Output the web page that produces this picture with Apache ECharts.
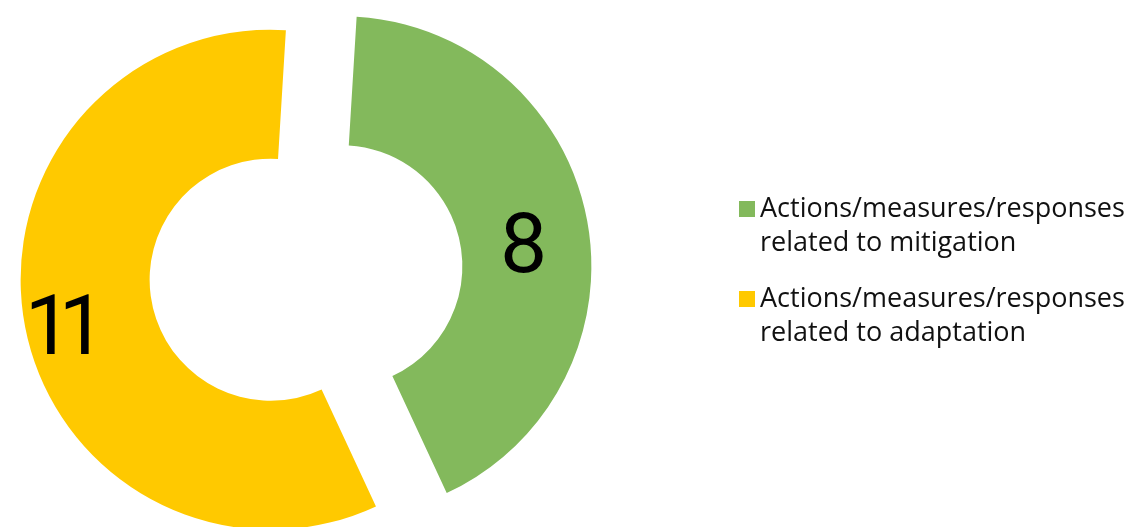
<!DOCTYPE html>
<html>
<head>
<meta charset="utf-8">
<script src="https://cdn.jsdelivr.net/npm/echarts@6/dist/echarts.min.js"></script>
<style>
html,body{margin:0;padding:0;background:#fff;}
#chart{width:1137px;height:527px;}
</style>
</head>
<body>
<div id="chart"></div>
<script>
var categories = [
  "Actions/measures/responses related to mitigation",
  "Actions/measures/responses related to adaptation"
];
var values = [8, 11];
var colors = ["#83B95C", "#FFC900"];

var chart = echarts.init(document.getElementById('chart'), null, {renderer: 'canvas'});
var labelShift = [[-3, 20], [-20, 18]];
chart.setOption({
  animation: false,
  color: colors,
  legend: {
    orient: 'vertical',
    left: 739,
    top: 158,
    padding: 0,
    itemWidth: 16,
    itemHeight: 16,
    itemGap: -12,
    icon: 'rect',
    selectedMode: false,
    formatter: function (name) { return '\n' + name.replace(' related', '\nrelated'); },
    textStyle: {
      fontFamily: 'Open Sans',
      fontSize: 27,
      color: '#111',
      lineHeight: 34
    }
  },
  series: [{
    type: 'pie',
    center: [306, 273],
    radius: [121, 250],
    startAngle: 86.5,
    clockwise: true,
    selectedMode: 'multiple',
    selectedOffset: 36,
    emphasis: {disabled: true},
    label: {
      show: true,
      position: 'inside',
      formatter: function (p) {
        var s = String(p.value);
        if (s.length < 2) return s;
        return s.split('').map(function (d) { return '{n|' + d + '}'; }).join('');
      },
      fontFamily: 'Roboto',
      fontWeight: 400,
      fontSize: 84,
      color: '#000',
      rich: {
        n: {width: 34, fontFamily: 'Roboto', fontSize: 84, color: '#000'}
      }
    },
    labelLine: {show: false},
    labelLayout: function (p) {
      var s = labelShift[p.dataIndex];
      return {dx: s[0], dy: s[1]};
    },
    data: categories.map(function (c, i) {
      return {name: c, value: values[i], selected: true};
    })
  }]
});
</script>
</body>
</html>
